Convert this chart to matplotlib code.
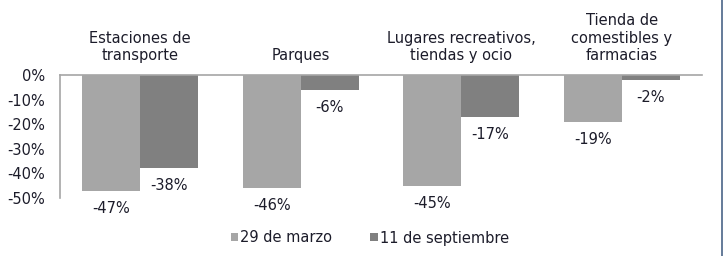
import matplotlib
matplotlib.use("Agg")
import matplotlib.pyplot as plt
from matplotlib.lines import Line2D
import numpy as np

categories = ["Estaciones de\ntransporte", "Parques", "Lugares recreativos,\ntiendas y ocio",
              "Tienda de\ncomestibles y\nfarmacias"]
series_names = ["29 de marzo", "11 de septiembre"]
marzo = [-47, -46, -45, -19]
septiembre = [-38, -6, -17, -2]
yticks = [0, -10, -20, -30, -40, -50]

W, H = 726, 256
fig = plt.figure(figsize=(W / 100, H / 100), dpi=100)
plt.rcParams['font.family'] = ['DejaVu Sans']
txt = '#1c1c2a'
c1, c2 = '#a6a6a6', '#808080'
fs = 10.5

ax = fig.add_axes([60 / W, (H - 198) / H, (702 - 60) / W, (198 - 75) / H])
x = np.arange(len(categories))
w = 0.3625
b1 = ax.bar(x - w / 2, marzo, w, color=c1, label=series_names[0])
b2 = ax.bar(x + w / 2, septiembre, w, color=c2, label=series_names[1])
ax.set_xlim(-0.5, len(categories) - 0.5)
ax.set_ylim(-50, 0)
ax.set_yticks(yticks)
ax.set_yticklabels([f"{v}%" for v in yticks], fontsize=fs, color=txt)
ax.tick_params(axis='y', length=0, pad=11)
ax.set_xticks([])
for s in ['right', 'bottom']:
    ax.spines[s].set_visible(False)
for s in ['top', 'left']:
    ax.spines[s].set_color('#a6a6a6')
    ax.spines[s].set_linewidth(1.2)

for bars, vals in ((b1, marzo), (b2, septiembre)):
    for bar, v in zip(bars, vals):
        ax.annotate(f"{v}%", (bar.get_x() + bar.get_width() / 2, v),
                    xytext=(0, -12.6), textcoords='offset points',
                    ha='center', va='center', fontsize=fs, color=txt,
                    annotation_clip=False)

for xi, cat in zip(x, categories):
    ax.annotate(cat, (xi, 0), xytext=(0, 8.5), textcoords='offset points',
                ha='center', va='bottom', fontsize=fs, color=txt,
                linespacing=1.22, annotation_clip=False)

fig.legend(handles=[b1, b2], loc='center', bbox_to_anchor=(370 / W, 1 - 238 / H),
           ncol=2, frameon=False, fontsize=fs, handlelength=0.5, handleheight=0.5,
           handletextpad=0.15, columnspacing=2.6, labelcolor=txt)

fig.add_artist(Line2D([721.5 / W, 721.5 / W], [0, 1], transform=fig.transFigure,
                      color='#4a6588', linewidth=1.2))

fig.savefig("out.png", dpi=100, facecolor='white')
